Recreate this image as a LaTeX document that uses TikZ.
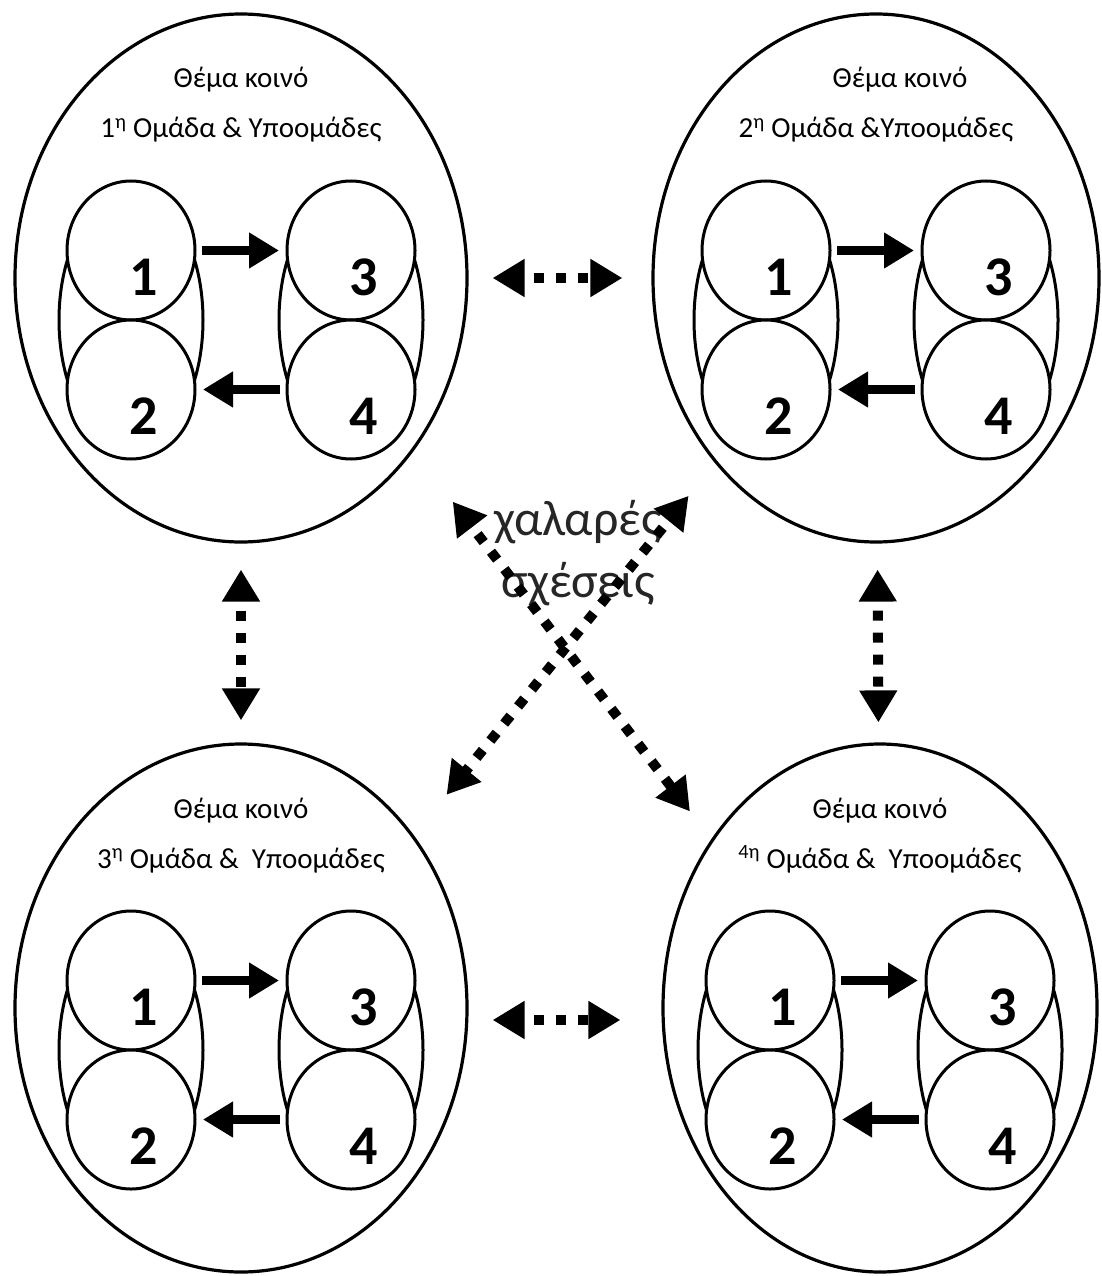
\documentclass[tikz,border=0pt]{standalone}
\usepackage{fontspec}
\setmainfont{Carlito}
\usepackage{tikz}
\usetikzlibrary{arrows.meta, positioning, calc, shapes.geometric}
\tikzset{
  bigoval/.style={draw, ellipse, line width=3.2pt, minimum height=528pt, inner sep=0pt},
  pairoval/.style={draw, ellipse, line width=3pt, minimum width=144pt, minimum height=256pt, inner sep=0pt, outer sep=0pt},
  subcircle/.style={draw, fill=white, ellipse, line width=3pt, minimum width=128pt, minimum height=139pt, inner sep=0pt, outer sep=0pt},
  subnum/.style={font=\fontsize{56}{60}\selectfont\bfseries},
  grouptitle/.style={font=\fontsize{29}{34}\selectfont, anchor=base},
  pairarrow/.style={-{Triangle[length=30pt,width=34pt]}, line width=9pt, shorten <=7pt, shorten >=8pt},
  loosearrow/.style={{Triangle[length=32pt,width=36pt]}-{Triangle[length=32pt,width=36pt]},
    line width=10pt, dash pattern=on 10pt off 12pt, dash phase=11pt}
}
\newcommand\SubGroups[5][0pt]{%
    \node[bigoval, minimum width=#4] (#2) at (#3) {};
    \node[grouptitle, xshift=#1] (#2t) at ($(#2)+(0,-190)$) {Θέμα κοινό};
    \node[grouptitle] (#2s) at ($(#2)+(0,-140)$) {#5};
    \node[pairoval] (#2l) at ($(#2)+(-110,42)$) {};
    \node[pairoval] (#2r) at ($(#2)+(110,42)$) {};
    \node[subcircle] (#2a) at ($(#2l)+(0,-69.5)$) {};
    \node[subcircle] (#2b) [below=0pt of #2a] {};
    \node[subcircle] (#2c) at ($(#2r)+(0,-69.5)$) {};
    \node[subcircle] (#2d) [below=0pt of #2c] {};
    \node[subnum] (#2n1) at ($(#2a)+(13,27)$) {1};
    \node[subnum] (#2n2) at ($(#2b)+(13,27)$) {2};
    \node[subnum] (#2n3) at ($(#2c)+(13,27)$) {3};
    \node[subnum] (#2n4) at ($(#2d)+(13,27)$) {4};
    \draw[pairarrow] (#2a) -- (#2c);
    \draw[pairarrow] (#2d) -- (#2b);
    }

\begin{document}
\begin{tikzpicture}[x=1pt, y=-1pt]
    \useasboundingbox (0,0) rectangle (1101,1276);

    \SubGroups{ul}{241,278}{452}{1\textsuperscript{η} Ομάδα \& Υποομάδες}
    \SubGroups[24pt]{ur}{876,278}{446}{2\textsuperscript{η} Ομάδα \&Υποομάδες}
    \SubGroups{ll}{241,1008}{452}{3\textsuperscript{η} Ομάδα \&~ Υποομάδες}
    \SubGroups{lr}{880,1008}{434}{\textsuperscript{4η} Ομάδα \&~ Υποομάδες}

    \node[font=\fontsize{50}{62}\selectfont, align=center, text=black!85] (loose) at (578,553) {χαλαρές\\σχέσεις};

    \draw[loosearrow, shorten <=24pt, shorten >=29pt] (ul) -- (ur);
    \draw[loosearrow, shorten <=24pt, shorten >=41pt] ([yshift=-12pt]ll.east) -- ([yshift=-12pt]lr.west);
    \draw[loosearrow, shorten <=26pt, shorten >=22pt] (ul) -- (ll);
    \draw[loosearrow, shorten <=26pt, shorten >=20pt] (ur) -- (lr);
    \draw[loosearrow, shorten <=64pt, shorten >=35pt] (ul.-45) -- (lr.135);
    \draw[loosearrow, shorten <=42pt, shorten >=52pt] (ur.-131) -- (ll.45);
\end{tikzpicture}
\end{document}
